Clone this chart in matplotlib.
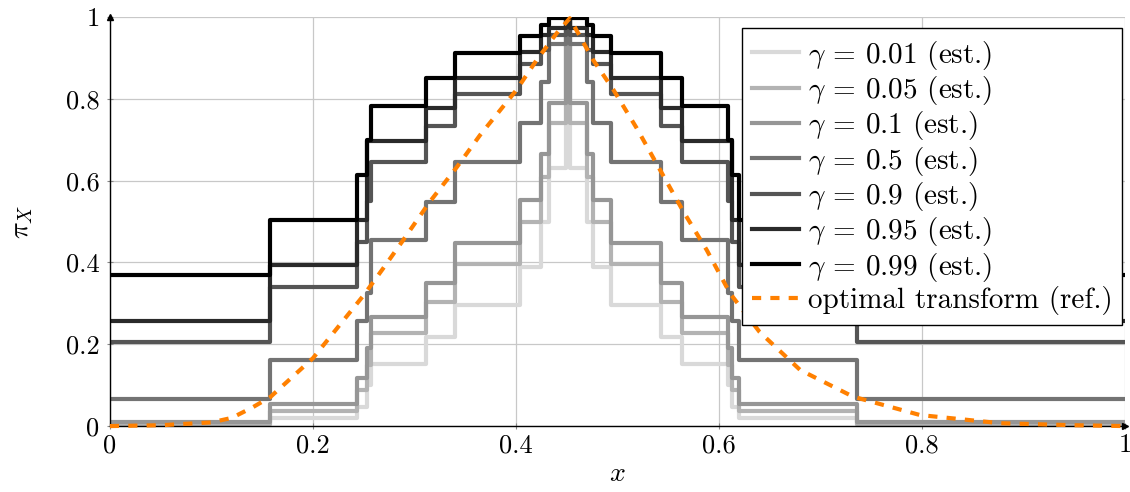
import matplotlib
matplotlib.use("Agg")
import matplotlib.pyplot as plt

plt.rcParams['font.family'] = ['cmr10', 'DejaVu Serif']
plt.rcParams['mathtext.fontset'] = 'cm'
plt.rcParams['axes.unicode_minus'] = False

# step edges (shared by all estimated curves)
edges = [0.0, 0.158, 0.243, 0.253, 0.257, 0.311, 0.340, 0.404, 0.425, 0.433,
         0.449, 0.453, 0.470, 0.476, 0.494, 0.543, 0.564, 0.609, 0.613, 0.620,
         0.736, 1.0]

# step values, one per interval
est_001 = [0.003, 0.020, 0.047, 0.100, 0.152, 0.218, 0.297, 0.390, 0.500, 0.630, 1.0,
           0.630, 0.500, 0.390, 0.297, 0.218, 0.152, 0.100, 0.047, 0.020, 0.003]
est_005 = [0.006, 0.037, 0.088, 0.150, 0.227, 0.304, 0.395, 0.500, 0.610, 0.742, 1.0,
           0.742, 0.610, 0.500, 0.395, 0.304, 0.227, 0.150, 0.088, 0.037, 0.006]
est_01 = [0.010, 0.054, 0.117, 0.190, 0.267, 0.350, 0.448, 0.553, 0.665, 0.790, 1.0,
          0.790, 0.665, 0.553, 0.448, 0.350, 0.267, 0.190, 0.117, 0.054, 0.010]
est_05 = [0.066, 0.161, 0.257, 0.325, 0.455, 0.548, 0.645, 0.740, 0.840, 0.935, 1.0,
          0.935, 0.840, 0.740, 0.645, 0.548, 0.455, 0.325, 0.257, 0.161, 0.066]
est_09 = [0.206, 0.339, 0.451, 0.550, 0.645, 0.734, 0.811, 0.885, 0.920, 0.955, 1.0,
          0.955, 0.920, 0.885, 0.811, 0.734, 0.645, 0.550, 0.451, 0.339, 0.206]
est_095 = [0.257, 0.394, 0.505, 0.697, 0.697, 0.778, 0.851, 0.915, 0.955, 0.972, 1.0,
           0.972, 0.955, 0.915, 0.851, 0.778, 0.697, 0.697, 0.505, 0.394, 0.257]
est_099 = [0.369, 0.504, 0.614, 0.700, 0.782, 0.851, 0.911, 0.953, 0.980, 0.997, 1.0,
           0.997, 0.980, 0.953, 0.911, 0.851, 0.782, 0.700, 0.614, 0.504, 0.369]

gammas = ['0.01', '0.05', '0.1', '0.5', '0.9', '0.95', '0.99']
grays = ['#d9d9d9', '#b3b3b3', '#969696', '#737373', '#555555', '#2a2a2a', '#000000']

# reference curve
ref_x = [0.0, 0.05, 0.10, 0.12, 0.14, 0.158, 0.20, 0.25, 0.269, 0.289, 0.315,
         0.342, 0.3645, 0.4006, 0.4204, 0.44, 0.453, 0.476, 0.496, 0.519, 0.542,
         0.565, 0.588, 0.611, 0.640, 0.680, 0.732, 0.798, 0.877, 0.95, 1.0]
ref_y = [0.0, 0.002, 0.009, 0.020, 0.045, 0.071, 0.166, 0.320, 0.385, 0.455, 0.548,
         0.634, 0.711, 0.822, 0.895, 0.960, 0.997, 0.895, 0.822, 0.728, 0.626,
         0.524, 0.430, 0.324, 0.230, 0.137, 0.072, 0.027, 0.007, 0.002, 0.0]

fig = plt.figure(figsize=(11.3, 4.92), dpi=100)
ax = fig.add_axes([0.0973, 0.134, 0.8983, 0.8314])

all_est = [est_001, est_005, est_01, est_05, est_09, est_095, est_099]
for vals, g, c in zip(all_est, gammas, grays):
    ax.plot(edges, vals + [vals[-1]], drawstyle='steps-post', color=c, lw=3,
            label=r'$\gamma$ = %s (est.)' % g)

ax.plot(ref_x, ref_y, color='#ff8000', lw=3, ls=(0, (2.2, 2.2)),
        label='optimal transform (ref.)', clip_on=False, zorder=5)

ax.set_xlim(0, 1)
ax.set_ylim(0, 1)
ticks = [0, 0.2, 0.4, 0.6, 0.8, 1]
tick_labels = ['0', '0.2', '0.4', '0.6', '0.8', '1']
ax.set_xticks(ticks)
ax.set_xticklabels(tick_labels)
ax.set_yticks(ticks)
ax.set_yticklabels(tick_labels)
ax.tick_params(labelsize=19, direction='inout', length=5, color='#888888', width=0.8)
ax.tick_params(axis='x', pad=3)
ax.tick_params(axis='y', pad=5)
ax.grid(True, color='#c8c8c8', lw=0.9)
ax.set_axisbelow(True)

for s in ['top', 'right']:
    ax.spines[s].set_visible(False)
for s in ['left', 'bottom']:
    ax.spines[s].set_linewidth(1.0)

ax.plot(0, 1, marker='^', color='k', ms=5, transform=ax.transAxes, clip_on=False)
ax.plot(1, 0, marker='>', color='k', ms=5, transform=ax.transAxes, clip_on=False)

ax.set_xlabel('$x$', fontsize=20, labelpad=2)
ax.set_ylabel(r'$\pi_X$', fontsize=20, labelpad=22)

leg = ax.legend(loc='upper right', bbox_to_anchor=(0.9975, 0.972), fontsize=21,
                frameon=True, fancybox=False, framealpha=1, edgecolor='black',
                handlelength=1.6, handletextpad=0.3, labelspacing=0.08,
                borderpad=0.35, borderaxespad=0)
leg.get_frame().set_linewidth(1.0)

fig.savefig('out.png', dpi=100)
